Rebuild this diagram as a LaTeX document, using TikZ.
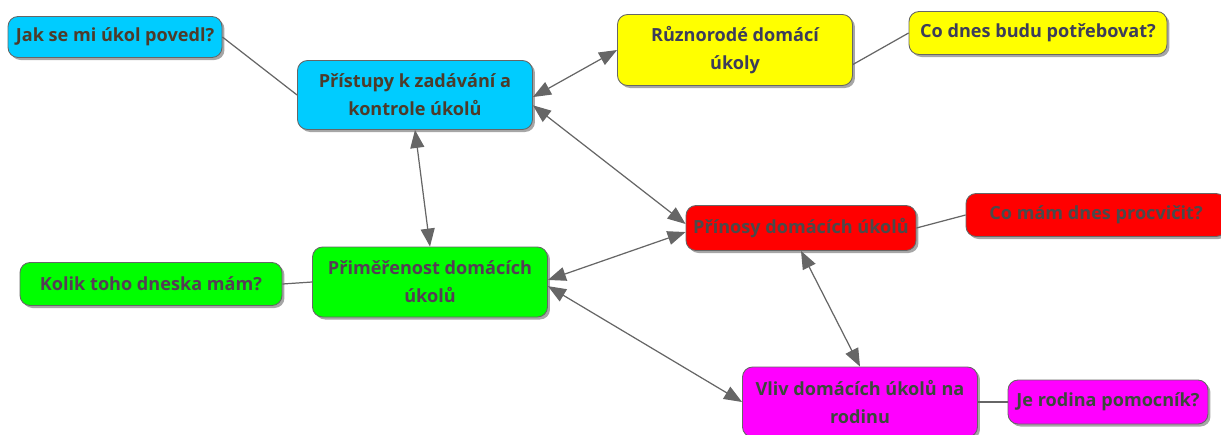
\documentclass[tikz,border=0pt]{standalone}
\usepackage{fontspec}
\setmainfont{Open Sans}
\usetikzlibrary{arrows.meta,shadows}
\definecolor{cyanbox}{HTML}{00CCFF}
\definecolor{yellowbox}{HTML}{FFFF00}
\definecolor{redbox}{HTML}{FF0000}
\definecolor{greenbox}{HTML}{00FF00}
\definecolor{magentabox}{HTML}{FF00FF}
\definecolor{cyantext}{HTML}{4D3B2A}
\definecolor{yellowtext}{HTML}{3C3C5A}
\definecolor{redtext}{HTML}{4A4A4A}
\definecolor{greentext}{HTML}{553D55}
\definecolor{magentatext}{HTML}{3A4A3A}
\definecolor{linkgray}{HTML}{666666}
\tikzset{
  box/.style={draw=linkgray, line width=0.5pt, rounded corners=0.2cm,
    align=center, inner sep=2pt, font=\fontsize{10.3}{15.8}\selectfont\bfseries,
    drop shadow={shadow xshift=0.05cm, shadow yshift=-0.05cm, fill=black, opacity=0.35}},
  bigbox/.style={box, minimum width=4.7cm, minimum height=1.4cm},
  link/.style={draw=linkgray, line width=0.7pt,
    {Triangle[length=0.36cm,width=0.28cm]}-{Triangle[length=0.36cm,width=0.28cm]}},
  plain/.style={draw=linkgray, line width=0.7pt},
}
\begin{document}
\begin{tikzpicture}[x=0.02cm, y=-0.02cm]
        \useasboundingbox (0,0) rectangle (1221,434);
        % topics
        \node[bigbox, fill=cyanbox, text=cyantext, minimum height=1.38cm] (pristupy) at (415,95) {Přístupy k zadávání a\\kontrole úkolů};
        \node[bigbox, fill=yellowbox, text=yellowtext, minimum height=1.42cm] (ruznorode) at (735,50) {Různorodé domácí\\úkoly};
        \node[box, fill=redbox, text=redtext, minimum width=4.6cm, minimum height=0.9cm] (prinosy) at (801,228) {Přínosy domácích úkolů};
        \node[bigbox, fill=greenbox, text=greentext] (primerenost) at (430,282) {Přiměřenost domácích\\úkolů};
        \node[bigbox, fill=magentabox, text=magentatext] (vliv) at (860,402) {Vliv domácích úkolů na\\rodinu};
        % questions
        \node[box, fill=cyanbox, text=cyantext, minimum width=4.28cm, minimum height=0.82cm] (jak) at (115,37) {Jak se mi úkol povedl?};
        \node[box, fill=yellowbox, text=yellowtext, minimum width=5.16cm, minimum height=0.86cm] (codnes) at (1038,33) {Co dnes budu potřebovat?};
        \node[box, fill=redbox, text=redtext, minimum width=5.2cm, minimum height=0.86cm] (comam) at (1096,215) {Co mám dnes procvičit?};
        \node[box, fill=greenbox, text=greentext, minimum width=5.24cm, minimum height=0.86cm] (kolik) at (151,284) {Kolik toho dneska mám?};
        \node[box, fill=magentabox, text=magentatext, minimum width=4.0cm, minimum height=0.88cm] (rodina) at (1108,402) {Je rodina pomocník?};
        % connections
        \draw[plain] (jak.east) -- (pristupy.west);
        \draw[plain] (ruznorode.-7) -- (codnes.west);
        \draw[plain] (prinosy.east) -- (comam.west);
        \draw[plain] (kolik.east) -- (primerenost.west);
        \draw[plain] (vliv.east) -- (rodina.west);
        \draw[link] (pristupy.-1) -- (ruznorode.west);
        \draw[link] (pristupy.-5) -- (prinosy.178);
        \draw[link] (pristupy.south) -- (primerenost.north);
        \draw[link] (primerenost.1) -- (prinosy.182);
        \draw[link] (primerenost.-2) -- (vliv.west);
        \draw[link] (prinosy.south) -- (vliv.north);
    \end{tikzpicture}
\end{document}
